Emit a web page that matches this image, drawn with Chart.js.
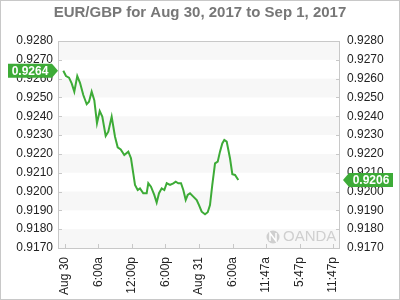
<!DOCTYPE html>
<html>
<head>
<meta charset="utf-8">
<script src="https://cdn.jsdelivr.net/npm/chart.js@4/dist/chart.umd.min.js"></script>
<style>
  html, body { margin: 0; padding: 0; background: #fff; }
  #wrap { width: 400px; height: 300px; }
</style>
</head>
<body>
<div id="wrap"><canvas id="fxChart" width="400" height="300"></canvas></div>
<script>
(function(){
    "use strict";

    // hours since Aug 30 00:00 and EUR/GBP prices
    var hours = [-0.30, 0.18, 0.72, 1.20, 1.67, 2.20, 2.69, 3.28, 3.89, 4.30,
        4.78, 5.25, 5.73, 6.22, 6.68, 7.29, 7.76, 8.36, 8.96, 9.44,
        9.98, 10.62, 11.34, 11.82, 12.23, 12.54, 13.02, 13.43, 14.02, 14.63,
        14.92, 15.40, 15.99, 16.42, 16.84, 17.32, 17.79, 18.22, 18.81, 19.40,
        19.83, 20.29, 20.78, 21.19, 21.62, 21.98, 22.39, 22.98, 23.59, 24.00,
        24.48, 25.08, 25.56, 25.97, 26.38, 26.87, 27.35, 27.76, 28.17, 28.53,
        28.96, 29.55, 29.97, 30.45, 31.04];
    var prices = [0.92642, 0.92614, 0.92605, 0.92575, 0.92531, 0.92614, 0.92578, 0.92513, 0.92464, 0.92477,
        0.92531, 0.92486, 0.92363, 0.92428, 0.92398, 0.92295, 0.92318, 0.92398, 0.92291, 0.92235,
        0.92224, 0.92194, 0.92212, 0.92177, 0.92097, 0.92035, 0.92008, 0.92017, 0.91991, 0.91991,
        0.92044, 0.92026, 0.91982, 0.91941, 0.91991, 0.92017, 0.92008, 0.92044, 0.92035, 0.92044,
        0.92052, 0.92044, 0.92044, 0.92008, 0.91955, 0.91982, 0.91991, 0.91973, 0.91955, 0.91928,
        0.91893, 0.91879, 0.91890, 0.91928, 0.92035, 0.92150, 0.92159, 0.92212, 0.92256, 0.92274,
        0.92265, 0.92177, 0.92092, 0.92088, 0.92061];

    var tickHours = [0, 6, 12, 18, 24, 30, 36, 42, 48];
    var tickLabels = ["Aug 30", "6:00a", "12:00p", "6:00p", "Aug 31", "6:00a", "11:47a", "5:47p", "11:47p"];
    var yMin = 0.9170, yMax = 0.9280, yStep = 0.001;

    var green = "#3dab37";
    var font = "'Liberation Sans', Arial, sans-serif";

    var points = hours.map(function(h, i){ return {x: h, y: prices[i]}; });

    function fixTicks(scale){
        scale.ticks = tickHours.map(function(v){ return {value: v}; });
    }

    var decor = {
        id: "decor",
        beforeDatasetsDraw: function(chart){
            var ctx = chart.ctx, a = chart.chartArea, y = chart.scales.y;
            ctx.save();
            ctx.fillStyle = "#f7f7f7";
            for (var i = 0; i < 11; i += 2) {
                var t = y.getPixelForValue(yMax - i * yStep);
                var b = y.getPixelForValue(yMax - (i + 1) * yStep);
                ctx.fillRect(a.left, t, a.right - a.left, b - t);
            }
            // watermark
            ctx.fillStyle = "#cfcfcf";
            ctx.beginPath();
            ctx.arc(a.right - 67, a.bottom - 11, 6.5, 0, Math.PI * 2);
            ctx.fill();
            ctx.strokeStyle = "#fff";
            ctx.lineWidth = 1.5;
            ctx.beginPath();
            ctx.moveTo(a.right - 70, a.bottom - 7);
            ctx.lineTo(a.right - 70, a.bottom - 15);
            ctx.lineTo(a.right - 64, a.bottom - 7);
            ctx.lineTo(a.right - 64, a.bottom - 15);
            ctx.stroke();
            ctx.font = "15px " + font;
            ctx.textBaseline = "middle";
            ctx.textAlign = "left";
            ctx.fillText("OANDA", a.right - 57, a.bottom - 11);
            ctx.restore();
        },
        afterDraw: function(chart){
            var ctx = chart.ctx, a = chart.chartArea, y = chart.scales.y, x = chart.scales.x;
            ctx.save();
            ctx.strokeStyle = "#c8c8c8";
            ctx.lineWidth = 1;
            ctx.strokeRect(0.5, 0.5, 399, 299);
            ctx.strokeRect(Math.round(a.left) + 0.5, Math.round(a.top) + 0.5,
                Math.round(a.right - a.left) - 1, Math.round(a.bottom - a.top));
            ctx.beginPath();
            for (var v = yMin; v <= yMax + 1e-9; v += yStep) {
                var py = Math.round(y.getPixelForValue(v)) + 0.5;
                ctx.moveTo(a.left, py); ctx.lineTo(a.left + 4, py);
                ctx.moveTo(a.right - 4, py); ctx.lineTo(a.right, py);
            }
            tickHours.forEach(function(h){
                var px = Math.round(x.getPixelForValue(h)) + 0.5;
                ctx.moveTo(px, a.bottom); ctx.lineTo(px, a.bottom - 4);
            });
            ctx.stroke();

            // price flags
            ctx.font = "bold 12px " + font;
            ctx.textBaseline = "middle";
            ctx.textAlign = "center";
            var y0 = y.getPixelForValue(prices[0]);
            var y1 = y.getPixelForValue(prices[prices.length - 1]);
            ctx.fillStyle = green;
            ctx.beginPath();
            ctx.moveTo(8, y0 - 7); ctx.lineTo(52, y0 - 7); ctx.lineTo(58, y0);
            ctx.lineTo(52, y0 + 7); ctx.lineTo(8, y0 + 7); ctx.closePath();
            ctx.fill();
            ctx.beginPath();
            ctx.moveTo(343, y1); ctx.lineTo(349, y1 - 7); ctx.lineTo(393, y1 - 7);
            ctx.lineTo(393, y1 + 7); ctx.lineTo(349, y1 + 7); ctx.closePath();
            ctx.fill();
            ctx.fillStyle = "#fff";
            ctx.fillText(prices[0].toFixed(4), 30, y0 + 0.5);
            ctx.fillText(prices[prices.length - 1].toFixed(4), 371, y1 + 0.5);
            ctx.restore();
        }
    };

    new Chart(document.querySelector("#fxChart"), {
        type: "line",
        data: {
            datasets: [{
                data: points,
                borderColor: green,
                borderWidth: 2,
                pointRadius: 0,
                tension: 0,
                fill: false
            }]
        },
        options: {
            responsive: false,
            animation: false,
            layout: { padding: 0 },
            plugins: {
                legend: { display: false },
                tooltip: { enabled: false },
                title: {
                    display: true,
                    text: "EUR/GBP for Aug 30, 2017 to Sep 1, 2017",
                    color: "#777",
                    font: { family: font, size: 15, weight: "bold" },
                    padding: { top: 4, bottom: 19 }
                }
            },
            scales: {
                x: {
                    type: "linear",
                    min: -1.25,
                    max: 49.25,
                    afterBuildTicks: fixTicks,
                    afterFit: function(s){ s.height = 52; },
                    grid: { display: false, drawTicks: false },
                    border: { display: false },
                    ticks: {
                        autoSkip: false,
                        minRotation: 90,
                        maxRotation: 90,
                        padding: 9,
                        color: "#222",
                        font: { family: font, size: 12 },
                        callback: function(v){
                            var i = tickHours.indexOf(v);
                            return i < 0 ? "" : tickLabels[i];
                        }
                    }
                },
                y: {
                    position: "left",
                    min: yMin,
                    max: yMax,
                    afterFit: function(s){ s.width = 58; },
                    grid: { display: false, drawTicks: false },
                    border: { display: false },
                    ticks: {
                        stepSize: yStep,
                        padding: 5,
                        color: "#222",
                        font: { family: font, size: 12 },
                        callback: function(v){ return v.toFixed(4); }
                    }
                },
                y2: {
                    position: "right",
                    min: yMin,
                    max: yMax,
                    afterFit: function(s){ s.width = 60; },
                    grid: { display: false, drawTicks: false },
                    border: { display: false },
                    ticks: {
                        stepSize: yStep,
                        padding: 7,
                        color: "#222",
                        font: { family: font, size: 12 },
                        callback: function(v){ return v.toFixed(4); }
                    }
                }
            }
        },
        plugins: [decor]
    });

})();
</script>
</body>
</html>
